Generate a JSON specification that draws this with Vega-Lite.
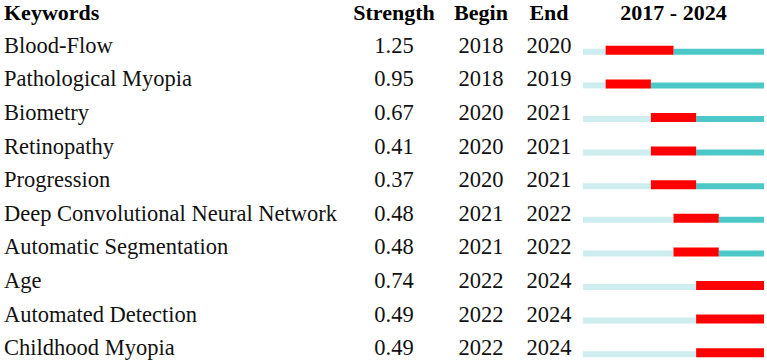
{
  "$schema": "https://vega.github.io/schema/vega-lite/v6.json",
  "padding": {"left": 4, "top": 2, "right": 0, "bottom": 0},
  "background": "white",
  "spacing": 0,
  "bounds": "flush",
  "config": {
    "view": {"stroke": null},
    "font": "Liberation Serif",
    "title": {"font": "Liberation Serif", "fontSize": 22, "fontWeight": "bold", "color": "#000000", "offset": 4, "frame": "group"},
    "text": {"font": "Liberation Serif", "fontSize": 22.5, "color": "#111111", "baseline": "alphabetic", "dy": 7}
  },
  "datasets": {
    "kw": [
      {"keyword": "Blood-Flow", "strength": 1.25, "begin": 2018, "end": 2020},
      {"keyword": "Pathological Myopia", "strength": 0.95, "begin": 2018, "end": 2019},
      {"keyword": "Biometry", "strength": 0.67, "begin": 2020, "end": 2021},
      {"keyword": "Retinopathy", "strength": 0.41, "begin": 2020, "end": 2021},
      {"keyword": "Progression", "strength": 0.37, "begin": 2020, "end": 2021},
      {"keyword": "Deep Convolutional Neural Network", "strength": 0.48, "begin": 2021, "end": 2022},
      {"keyword": "Automatic Segmentation", "strength": 0.48, "begin": 2021, "end": 2022},
      {"keyword": "Age", "strength": 0.74, "begin": 2022, "end": 2024},
      {"keyword": "Automated Detection", "strength": 0.49, "begin": 2022, "end": 2024},
      {"keyword": "Childhood Myopia", "strength": 0.49, "begin": 2022, "end": 2024}
    ],
    "seg": [
      {"keyword": "Blood-Flow", "status": "before", "start": 2017, "stop": 2018},
      {"keyword": "Blood-Flow", "status": "burst", "start": 2018, "stop": 2021},
      {"keyword": "Blood-Flow", "status": "after", "start": 2021, "stop": 2025},
      {"keyword": "Pathological Myopia", "status": "before", "start": 2017, "stop": 2018},
      {"keyword": "Pathological Myopia", "status": "burst", "start": 2018, "stop": 2020},
      {"keyword": "Pathological Myopia", "status": "after", "start": 2020, "stop": 2025},
      {"keyword": "Biometry", "status": "before", "start": 2017, "stop": 2020},
      {"keyword": "Biometry", "status": "burst", "start": 2020, "stop": 2022},
      {"keyword": "Biometry", "status": "after", "start": 2022, "stop": 2025},
      {"keyword": "Retinopathy", "status": "before", "start": 2017, "stop": 2020},
      {"keyword": "Retinopathy", "status": "burst", "start": 2020, "stop": 2022},
      {"keyword": "Retinopathy", "status": "after", "start": 2022, "stop": 2025},
      {"keyword": "Progression", "status": "before", "start": 2017, "stop": 2020},
      {"keyword": "Progression", "status": "burst", "start": 2020, "stop": 2022},
      {"keyword": "Progression", "status": "after", "start": 2022, "stop": 2025},
      {"keyword": "Deep Convolutional Neural Network", "status": "before", "start": 2017, "stop": 2021},
      {"keyword": "Deep Convolutional Neural Network", "status": "burst", "start": 2021, "stop": 2023},
      {"keyword": "Deep Convolutional Neural Network", "status": "after", "start": 2023, "stop": 2025},
      {"keyword": "Automatic Segmentation", "status": "before", "start": 2017, "stop": 2021},
      {"keyword": "Automatic Segmentation", "status": "burst", "start": 2021, "stop": 2023},
      {"keyword": "Automatic Segmentation", "status": "after", "start": 2023, "stop": 2025},
      {"keyword": "Age", "status": "before", "start": 2017, "stop": 2022},
      {"keyword": "Age", "status": "burst", "start": 2022, "stop": 2025},
      {"keyword": "Automated Detection", "status": "before", "start": 2017, "stop": 2022},
      {"keyword": "Automated Detection", "status": "burst", "start": 2022, "stop": 2025},
      {"keyword": "Childhood Myopia", "status": "before", "start": 2017, "stop": 2022},
      {"keyword": "Childhood Myopia", "status": "burst", "start": 2022, "stop": 2025}
    ]
  },
  "hconcat": [
    {
      "data": {"name": "kw"},
      "width": 337,
      "height": {"step": 33.6},
      "title": {"text": "Keywords", "anchor": "start"},
      "mark": {"type": "text", "align": "left"},
      "encoding": {
        "y": {"field": "keyword", "type": "nominal", "sort": ["Blood-Flow", "Pathological Myopia", "Biometry", "Retinopathy", "Progression", "Deep Convolutional Neural Network", "Automatic Segmentation", "Age", "Automated Detection", "Childhood Myopia"], "axis": null, "scale": {"type": "band", "paddingInner": 0, "paddingOuter": 0}},
        "x": {"datum": 0, "type": "quantitative", "scale": {"domain": [0, 1]}, "axis": null},
        "text": {"field": "keyword"}
      }
    },
    {
      "data": {"name": "kw"},
      "width": 106,
      "height": {"step": 33.6},
      "title": {"text": "Strength", "anchor": "middle"},
      "mark": {"type": "text", "align": "center"},
      "encoding": {
        "y": {"field": "keyword", "type": "nominal", "sort": ["Blood-Flow", "Pathological Myopia", "Biometry", "Retinopathy", "Progression", "Deep Convolutional Neural Network", "Automatic Segmentation", "Age", "Automated Detection", "Childhood Myopia"], "axis": null, "scale": {"type": "band", "paddingInner": 0, "paddingOuter": 0}},
        "text": {"field": "strength", "type": "quantitative", "format": ".2f"}
      }
    },
    {
      "data": {"name": "kw"},
      "width": 68,
      "height": {"step": 33.6},
      "title": {"text": "Begin", "anchor": "middle"},
      "mark": {"type": "text", "align": "center"},
      "encoding": {
        "y": {"field": "keyword", "type": "nominal", "sort": ["Blood-Flow", "Pathological Myopia", "Biometry", "Retinopathy", "Progression", "Deep Convolutional Neural Network", "Automatic Segmentation", "Age", "Automated Detection", "Childhood Myopia"], "axis": null, "scale": {"type": "band", "paddingInner": 0, "paddingOuter": 0}},
        "text": {"field": "begin", "type": "quantitative", "format": "d"}
      }
    },
    {
      "data": {"name": "kw"},
      "width": 68,
      "height": {"step": 33.6},
      "title": {"text": "End", "anchor": "middle"},
      "mark": {"type": "text", "align": "center"},
      "encoding": {
        "y": {"field": "keyword", "type": "nominal", "sort": ["Blood-Flow", "Pathological Myopia", "Biometry", "Retinopathy", "Progression", "Deep Convolutional Neural Network", "Automatic Segmentation", "Age", "Automated Detection", "Childhood Myopia"], "axis": null, "scale": {"type": "band", "paddingInner": 0, "paddingOuter": 0}},
        "text": {"field": "end", "type": "quantitative", "format": "d"}
      }
    },
    {
      "data": {"name": "seg"},
      "width": 181,
      "height": {"step": 33.6},
      "title": {"text": "2017 - 2024", "anchor": "middle"},
      "encoding": {
        "y": {"field": "keyword", "type": "nominal", "sort": ["Blood-Flow", "Pathological Myopia", "Biometry", "Retinopathy", "Progression", "Deep Convolutional Neural Network", "Automatic Segmentation", "Age", "Automated Detection", "Childhood Myopia"], "axis": null, "scale": {"type": "band", "paddingInner": 0, "paddingOuter": 0}},
        "x": {"field": "start", "type": "quantitative", "scale": {"domain": [2017, 2025], "nice": false, "zero": false}, "axis": null},
        "x2": {"field": "stop"},
        "color": {"field": "status", "type": "nominal", "scale": {"domain": ["before", "burst", "after"], "range": ["#cdedef", "#ff0000", "#4cc8c8"]}, "legend": null}
      },
      "layer": [
        {"transform": [{"filter": "datum.status != 'burst'"}], "mark": {"type": "bar", "size": 6, "yOffset": 6}},
        {"transform": [{"filter": "datum.status == 'burst'"}], "mark": {"type": "bar", "size": 9, "yOffset": 4.5}}
      ]
    }
  ]
}
